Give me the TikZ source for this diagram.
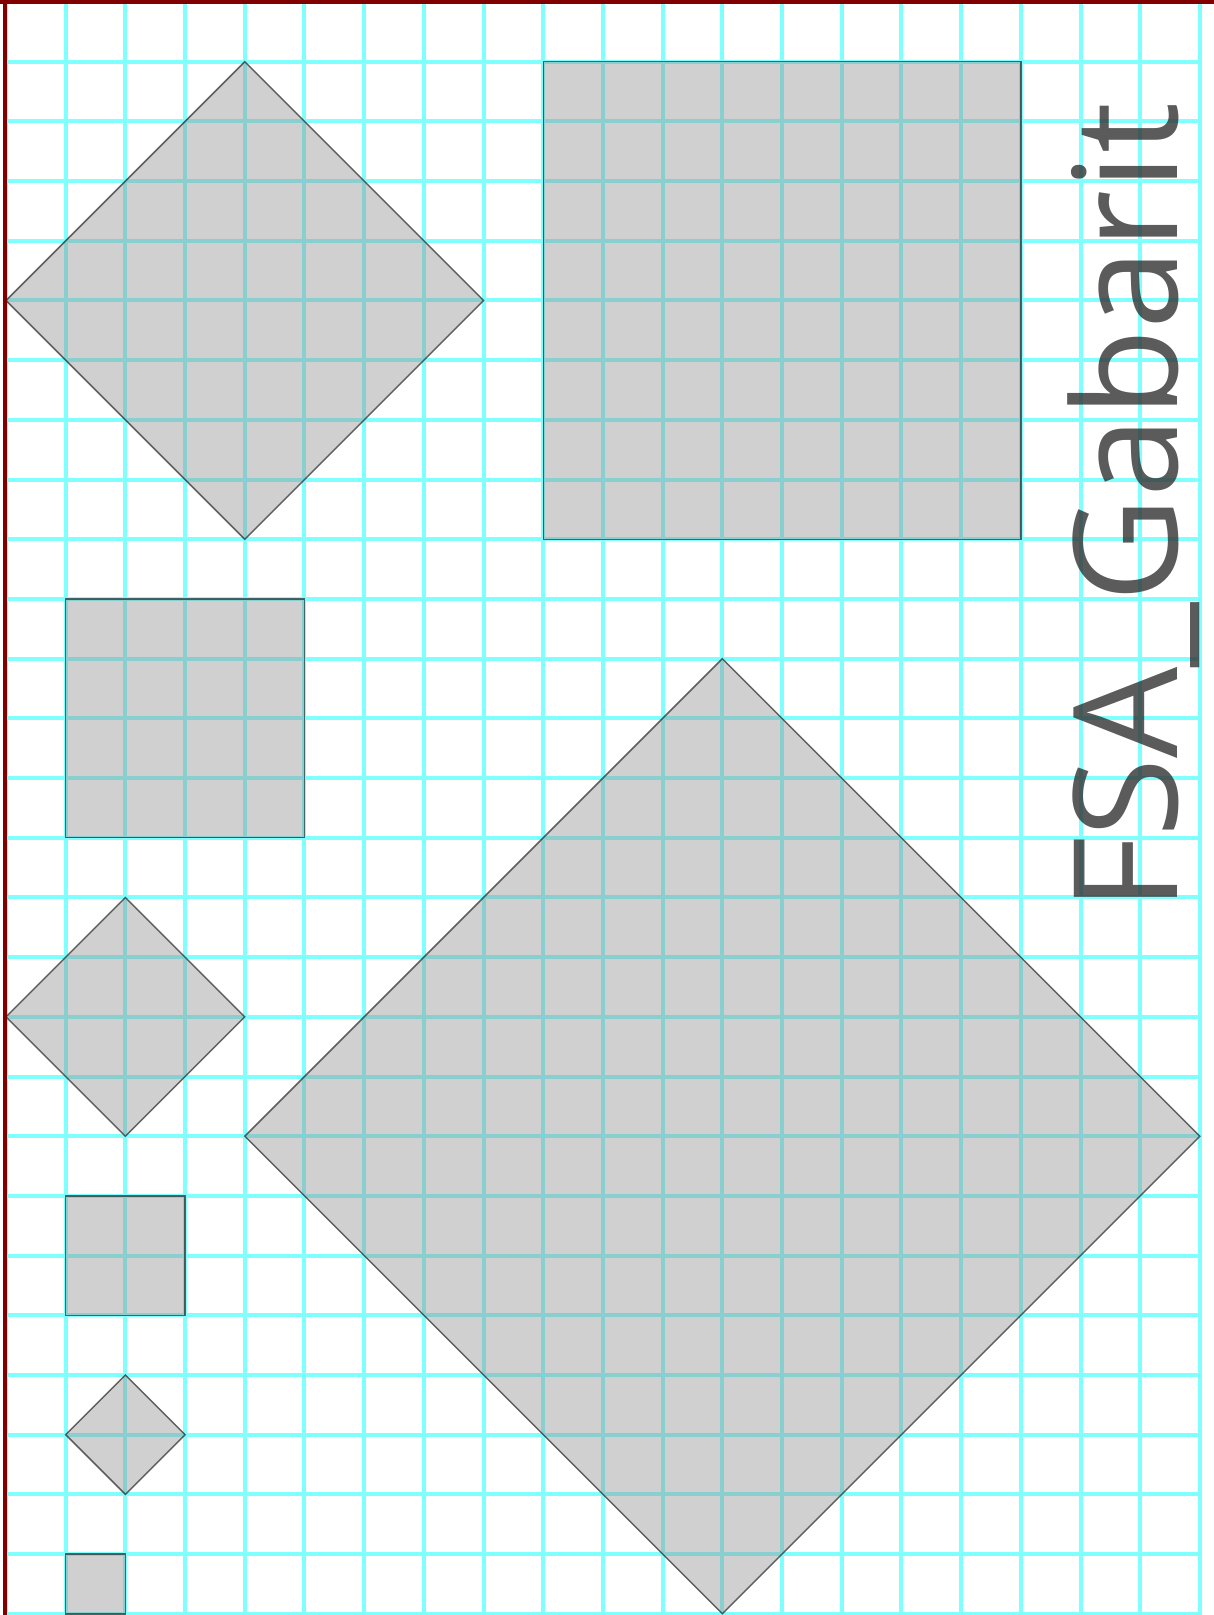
\documentclass[tikz,border=0pt]{standalone}
\usepackage{fontspec}
\usepackage{graphicx}
\newfontfamily\titlefont{Open Sans}
\definecolor{gridcyan}{RGB}{128,255,255}
\definecolor{borderred}{RGB}{128,0,0}
\definecolor{shapegray}{RGB}{150,150,150}
\definecolor{inkgray}{RGB}{50,50,50}
\begin{document}
\begin{tikzpicture}[x=1cm,y=-1cm,
  gridline/.style={draw=gridcyan, line width=1.9pt},
  paper/.style={fill=shapegray, fill opacity=0.45, draw=black!85, draw opacity=0.7, line width=0.7pt, line join=miter},
  border/.style={draw=borderred, line width=1.8pt},
  titlestyle/.style={text=inkgray, text opacity=0.8, font=\titlefont}]
\useasboundingbox (-0.1005,-0.0335) rectangle (20.235,27.02);
% grid
\foreach \i in {0,...,20} \draw[gridline] (\i,-0.1) -- (\i,27.1);
\foreach \j in {0,...,27} \draw[gridline] (0,\j) -- (20,\j);
% paper shapes
\draw[paper] (4,1) -- (8,5) -- (4,9) -- (0,5) -- cycle;
\draw[paper] (9,1) rectangle (17,9);
\draw[paper] (1,10) rectangle (5,14);
\draw[paper] (2,15) -- (4,17) -- (2,19) -- (0,17) -- cycle;
\draw[paper] (1,20) rectangle (3,22);
\draw[paper] (2,23) -- (3,24) -- (2,25) -- (1,24) -- cycle;
\draw[paper] (1,26) rectangle (2,27);
\draw[paper] (12,11) -- (20,19) -- (12,27) -- (4,19) -- cycle;
% title
\node[titlestyle, rotate=90, anchor=base west, inner sep=0pt] (title) at (19.62,15.25) {\resizebox{13.55cm}{1.84cm}{FSA\_Gabarit}};
% border
\draw[border] (-0.021,27.1) -- (-0.021,-0.05);
\draw[border] (-0.1,0) -- (20.3,0);
\end{tikzpicture}
\end{document}
